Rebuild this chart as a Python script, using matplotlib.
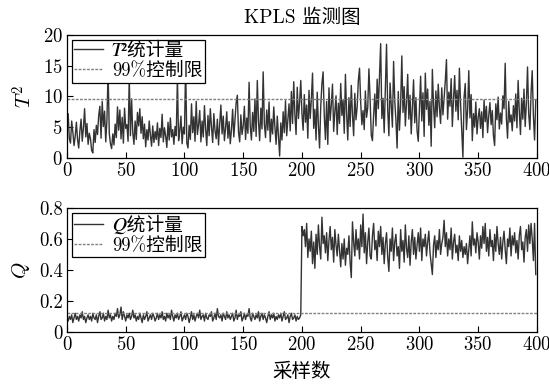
import numpy as np
import matplotlib
matplotlib.use('Agg')
from matplotlib import pyplot as plt

plt.rcParams['font.family'] = ['cmr10', 'Noto Sans CJK SC']
plt.rcParams['mathtext.fontset'] = 'cm'
plt.rcParams['axes.formatter.use_mathtext'] = True
plt.rcParams['axes.unicode_minus'] = False

# T^2 statistic per sample (fault enters around sample 200)
t2 = [
    5.0, 7.2, 3.1, 2.4, 6.0, 4.2, 2.0, 3.5, 5.8, 3.0, 1.6, 4.4, 6.3, 2.7, 4.9, 8.0, 3.4, 5.6, 2.2, 4.0,
    3.1, 1.2, 0.8, 4.6, 2.5, 5.3, 3.8, 6.9, 8.4, 3.2, 9.2, 5.1, 7.6, 2.6, 6.2, 14.2, 4.0, 2.3, 1.5, 3.9,
    2.1, 5.5, 3.3, 8.3, 4.5, 7.8, 3.1, 6.6, 2.4, 8.1, 4.8, 5.4, 2.7, 13.2, 3.6, 9.6, 4.1, 2.2, 6.0, 3.0,
    7.4, 5.2, 8.0, 4.0, 6.7, 3.1, 5.5, 1.8, 4.6, 2.9, 6.0, 3.7, 1.9, 5.2, 2.5, 4.3, 3.0, 5.7, 2.0, 4.8,
    3.3, 7.1, 2.6, 4.9, 3.5, 1.7, 5.8, 2.9, 6.5, 3.4, 4.6, 2.2, 5.1, 3.6, 13.0, 2.8, 4.4, 6.8, 2.3, 5.0,
    3.9, 15.5, 2.4, 1.6, 5.3, 3.0, 8.8, 4.1, 6.7, 2.7, 9.2, 3.8, 5.4, 7.7, 2.6, 6.0, 3.4, 8.5, 4.7, 2.0,
    6.9, 3.6, 8.0, 5.0, 2.5, 7.2, 4.4, 3.1, 6.3, 2.1, 5.6, 8.6, 3.9, 6.8, 2.8, 4.9, 7.5, 3.2, 5.9, 2.3,
    4.6, 7.9, 3.4, 6.1, 9.0, 10.2, 4.2, 2.6, 7.0, 3.8, 5.2, 8.4, 3.0, 6.5, 4.0, 12.3, 5.1, 2.9, 7.4, 4.3,
    9.6, 3.5, 12.6, 6.0, 2.8, 8.1, 4.7, 14.0, 5.5, 3.3, 7.8, 4.5, 9.1, 2.6, 6.3, 3.9, 8.3, 5.0, 2.2, 6.8,
    3.4, 0.3, 5.7, 2.9, 7.5, 4.1, 9.3, 3.6, 6.2, 8.8, 4.4, 10.8, 5.6, 12.4, 7.0, 3.8, 11.5, 6.4, 9.0, 12.6,
    7.2, 4.5, 10.3, 5.8, 8.6, 3.2, 11.0, 6.4, 9.5, 13.8, 4.8, 7.9, 2.9, 10.7, 5.3, 1.6, 8.4, 12.1, 14.0, 6.8,
    3.0, 9.2, 2.2, 11.4, 6.1, 8.7, 12.0, 4.3, 7.5, 10.1, 3.8, 8.9, 5.6, 12.1, 6.9, 9.4, 4.0, 13.6, 7.3, 2.9,
    9.8, 5.1, 11.8, 7.0, 3.6, 10.5, 6.2, 8.3, 12.6, 14.6, 9.0, 5.4, 7.7, 4.6, 10.9, 6.6, 8.2, 14.5, 9.6, 3.7,
    2.8, 6.9, 10.4, 5.2, 12.8, 8.0, 13.2, 18.6, 6.4, 9.7, 4.1, 11.3, 18.5, 7.8, 3.6, 12.2, 8.7, 5.0, 15.7, 9.3,
    6.1, 1.6, 10.8, 4.5, 8.8, 16.6, 7.4, 11.6, 5.2, 9.0, 13.6, 6.3, 10.2, 3.9, 8.5, 12.7, 5.7, 9.8, 4.4, 2.7,
    8.1, 13.3, 6.0, 10.6, 3.5, 13.8, 7.9, 11.2, 5.3, 9.2, 1.9, 14.4, 8.6, 4.9, 10.9, 6.7, 12.0, 8.2, 5.6, 11.4,
    7.0, 9.8, 12.5, 16.0, 6.3, 10.7, 8.4, 12.9, 5.1, 9.5, 13.4, 7.6, 11.0, 6.2, 14.6, 8.9, 4.3, 0.1, 9.9, 12.1,
    4.6, 7.8, 14.2, 6.5, 10.3, 2.8, 7.2, 5.0, 9.1, 3.9, 6.6, 8.0, 4.8, 7.5, 3.3, 9.4, 5.9, 8.4, 4.1, 6.9,
    9.0, 5.4, 7.7, 3.6, 2.0, 8.8, 6.2, 9.9, 4.7, 7.3, 5.5, 10.1, 8.0, 15.4, 6.4, 3.2, 9.2, 5.8, 7.0, 4.4,
    8.5, 6.0, 10.4, 4.9, 12.6, 7.6, 3.8, 9.7, 6.3, 11.2, 5.1, 8.8, 14.8, 7.2, 4.6, 10.5, 14.2, 6.8, 2.9, 9.4,
]

# Q (SPE) statistic per sample
q = [
    .09, .07, .10, .08, .11, .06, .09, .12, .08, .10, .07, .11, .09, .13, .08, .10, .06, .09, .11, .08,
    .10, .07, .12, .09, .08, .11, .06, .10, .13, .08, .09, .12, .07, .10, .08, .14, .09, .11, .07, .10,
    .08, .12, .10, .15, .09, .11, .16, .08, .13, .10, .07, .11, .09, .12, .08, .10, .14, .09, .11, .07,
    .10, .08, .12, .09, .06, .11, .08, .10, .13, .07, .09, .11, .08, .12, .10, .07, .09, .12, .08, .11,
    .09, .13, .08, .10, .07, .12, .09, .11, .08, .14, .10, .07, .11, .09, .12, .08, .10, .13, .07, .09,
    .11, .08, .12, .10, .06, .09, .13, .08, .11, .07, .10, .12, .09, .14, .08, .10, .11, .07, .12, .09,
    .08, .11, .10, .13, .07, .09, .12, .08, .15, .10, .09, .11, .07, .12, .10, .08, .13, .09, .11, .08,
    .10, .12, .07, .09, .14, .08, .11, .10, .13, .07, .09, .12, .08, .11, .10, .15, .09, .07, .12, .10,
    .08, .11, .09, .13, .07, .10, .12, .08, .11, .09, .06, .10, .13, .08, .11, .09, .12, .07, .10, .08,
    .11, .09, .12, .07, .10, .13, .08, .09, .11, .06, .10, .12, .08, .09, .11, .07, .10, .08, .09, .11,
    .68, .62, .66, .55, .70, .48, .60, .52, .65, .44, .58, .41, .63, .50, .69, .55, .47, .74, .57, .62,
    .51, .64, .46, .59, .68, .53, .61, .45, .66, .56, .49, .63, .52, .42, .57, .47, .60, .43, .54, .50,
    .62, .45, .35, .71, .58, .49, .66, .53, .60, .47, .69, .55, .76, .51, .64, .44, .58, .67, .49, .47,
    .62, .70, .53, .59, .46, .65, .55, .68, .50, .61, .44, .57, .64, .48, .39, .60, .52, .67, .46, .58,
    .63, .49, .55, .41, .66, .52, .59, .45, .69, .54, .48, .62, .43, .58, .66, .50, .61, .47, .56, .64,
    .52, .67, .46, .60, .55, .63, .49, .58, .65, .51, .44, .37, .56, .62, .48, .59, .53, .66, .50, .57,
    .61, .72, .55, .64, .49, .60, .53, .67, .47, .58, .63, .51, .56, .46, .62, .52, .59, .48, .55, .50,
    .57, .44, .53, .62, .49, .71, .56, .60, .51, .64, .58, .47, .62, .54, .68, .57, .70, .52, .61, .49,
    .66, .55, .59, .46, .63, .52, .68, .57, .50, .61, .47, .58, .65, .53, .44, .60, .55, .67, .49, .62,
    .56, .64, .51, .59, .47, .62, .68, .53, .58, .45, .61, .66, .52, .69, .57, .70, .60, .46, .70, .37,
]

t2_limit = 9.6
q_limit = 0.12
x_ticks = [0, 50, 100, 150, 200, 250, 300, 350, 400]

fig = plt.figure(figsize=(5.49, 3.85), dpi=100)
ax1 = fig.add_axes([0.122, 0.590, 0.856, 0.319])
ax2 = fig.add_axes([0.122, 0.138, 0.856, 0.322])

x = np.arange(len(t2))
line_kw = dict(color='0.2', lw=1.0)
lim_kw = dict(color='0.5', lw=1.0, ls=(0, (2, 1)))

# italic math letters as unicode so the label can mix with Chinese text
ax1.plot(x, t2, label='\U0001D447\u00b2统计量', **line_kw)
ax1.plot([0, 400], [t2_limit, t2_limit], label='99%控制限', **lim_kw)
ax1.set_ylim(0, 20)
ax1.set_yticks([0, 5, 10, 15, 20])
ax1.set_ylabel(r'$T^2$', fontsize=15, labelpad=5)
ax1.set_title('KPLS 监测图', fontsize=14, pad=9)

ax2.plot(x, q, label='\U0001D444统计量', **line_kw)
ax2.plot([0, 400], [q_limit, q_limit], label='99%控制限', **lim_kw)
ax2.set_ylim(0, 0.8)
ax2.set_yticks([0, 0.2, 0.4, 0.6, 0.8])
ax2.set_yticklabels(['0', '0.2', '0.4', '0.6', '0.8'])
ax2.set_ylabel(r'$Q$', fontsize=15, labelpad=5)
ax2.set_xlabel('采样数', fontsize=14, labelpad=6)

for ax in (ax1, ax2):
    ax.set_xlim(0, 400)
    ax.set_xticks(x_ticks)
    ax.tick_params(direction='in', length=4, width=0.8, labelsize=13.5,
                   top=False, right=False, pad=3)
    for s in ax.spines.values():
        s.set_linewidth(0.9)
        s.set_color('black')
    leg = ax.legend(loc='upper left', fontsize=13.5, frameon=True, fancybox=False,
                    edgecolor='black', framealpha=1, handlelength=1.5,
                    handletextpad=0.5, borderpad=0.15, labelspacing=0.1,
                    borderaxespad=0.25)
    leg.get_frame().set_linewidth(0.9)
    leg.get_texts()[0].set_family(['STIXGeneral', 'Noto Sans CJK SC'])

fig.savefig('out.png', dpi=100)
